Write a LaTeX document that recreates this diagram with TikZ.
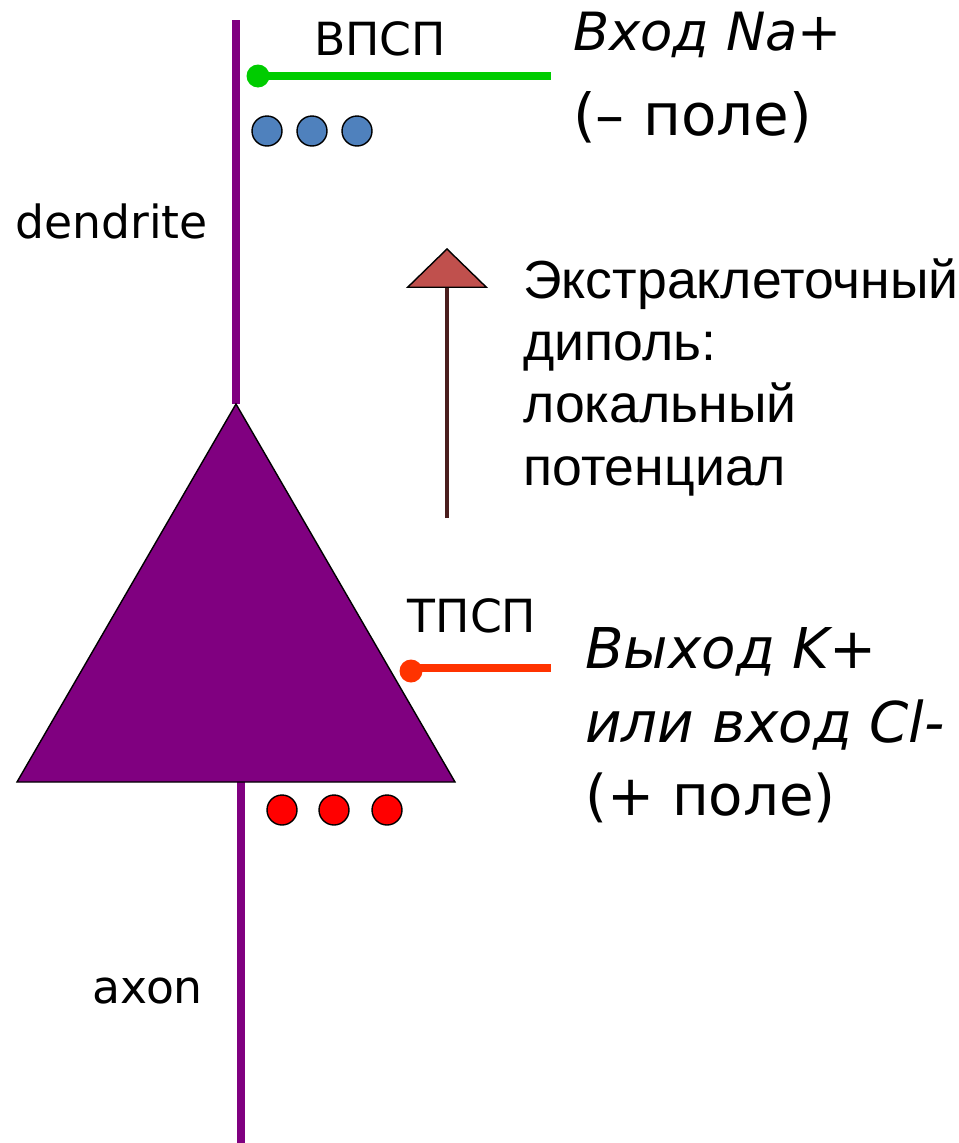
\documentclass[tikz,border=0pt]{standalone}
\usepackage{fontspec}
\setmainfont{DejaVu Sans}
\newfontfamily\arialfont{Liberation Sans}
\usetikzlibrary{arrows.meta}
\definecolor{neuron}{HTML}{800080}
\definecolor{epsp}{HTML}{00CC00}
\definecolor{ipsp}{HTML}{FF3300}
\definecolor{naion}{HTML}{4F81BD}
\definecolor{kion}{HTML}{FF0000}
\definecolor{dipolehead}{HTML}{C0504D}
\definecolor{dipoleshaft}{HTML}{4A1E1E}
\tikzset{
	fibre/.style={draw=neuron, line width=4.2pt},
	syn/.style={line width=4.4pt},
	synend/.style={circle, inner sep=0pt, minimum size=0.46cm},
	ion/.style={circle, draw=black, line width=0.8pt, inner sep=0pt, minimum size=0.6cm},
	lab/.style={font=\fontsize{26}{31}\selectfont, inner sep=0pt},
	note/.style={inner sep=0pt, align=left},
}

\begin{document}
\begin{tikzpicture}[x=0.02cm, y=-0.02cm]
	\useasboundingbox (0,0) rectangle (959,1143);
	% neuron: dendrite, soma, axon
	\coordinate (dtop) at (236,20);
	\coordinate (apex) at (236,404);
	\coordinate (bl) at (17,782);
	\coordinate (br) at (455,782);
	\coordinate (atop) at (241,782);
	\coordinate (abot) at (241,1143);
	\draw[fibre] (dtop) -- (apex);
	\draw[fibre] (atop) -- (abot);
	\draw[fill=neuron, line width=0.8pt] (apex) -- (bl) -- (br) -- cycle;
	\node[lab, anchor=base west] (dend) at (15,238) {dendrite};
	\node[lab, anchor=base west] (ax) at (92,1003) {axon};
	% synapses
	\node[synend, fill=epsp] (vdot) at (258,76) {};
	\coordinate (vend) at (551,76);
	\draw[syn, epsp] (vdot.center) -- (vend);
	\node[lab, anchor=base] (vpsp) at (380,55) {ВПСП};
	\node[synend, fill=ipsp] (tdot) at (411,671) {};
	\coordinate (tend) at (551,668);
	\draw[syn, ipsp] (tdot.center |- tend) -- (tend);
	\node[lab, anchor=base] (tpsp) at (472,632) {ТПСП};
	% ions
	\foreach \i/\x in {1/267,2/312,3/357}
		\node[ion, fill=naion] (na\i) at (\x,131) {};
	\foreach \i/\x in {1/282,2/334,3/387}
		\node[ion, fill=kion] (k\i) at (\x,810) {};
	% dipole
	\coordinate (dipA) at (447,518);
	\coordinate (dipB) at (447,248);
	\draw[draw=dipoleshaft, line width=2.3pt,
		-{Triangle[length=0.8cm, width=1.64cm, fill=dipolehead, color=black, line width'=0.8pt]}] (dipA) -- (dipB);
	\node[anchor=north west, inner sep=0pt, align=left,
		font=\arialfont\fontsize{30.5}{35.5}\selectfont] (dipole) at (523,258)
		{Экстраклеточный\\диполь:\\локальный\\потенциал};
	% ion currents
	\node[note, anchor=north west, font=\fontsize{33}{48}\selectfont] (nain) at (573,12)
		{{\fontsize{30}{48}\selectfont\itshape Вход Na+}\\(– поле)};
	\node[note, anchor=north west, font=\fontsize{32}{42}\selectfont] (kout) at (585,627)
		{\itshape Выход K+\\\itshape или вход Cl-\\(+ поле)};
\end{tikzpicture}
\end{document}
